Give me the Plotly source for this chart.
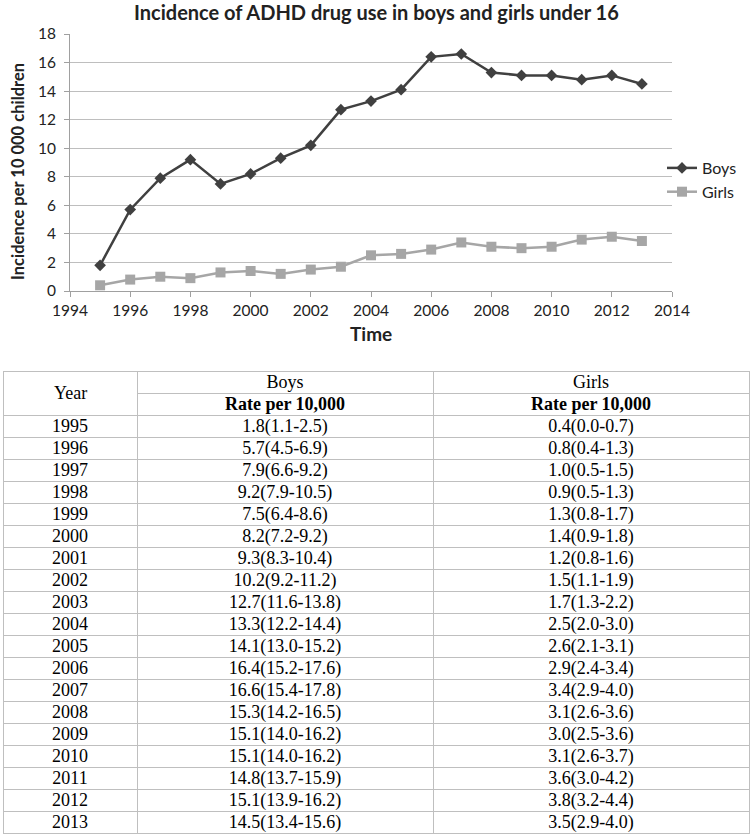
import plotly.graph_objects as go

# ---------------- data ----------------
years = [1995, 1996, 1997, 1998, 1999, 2000, 2001, 2002, 2003, 2004,
         2005, 2006, 2007, 2008, 2009, 2010, 2011, 2012, 2013]
boys = [1.8, 5.7, 7.9, 9.2, 7.5, 8.2, 9.3, 10.2, 12.7, 13.3,
        14.1, 16.4, 16.6, 15.3, 15.1, 15.1, 14.8, 15.1, 14.5]
boys_lo = [1.1, 4.5, 6.6, 7.9, 6.4, 7.2, 8.3, 9.2, 11.6, 12.2,
           13.0, 15.2, 15.4, 14.2, 14.0, 14.0, 13.7, 13.9, 13.4]
boys_hi = [2.5, 6.9, 9.2, 10.5, 8.6, 9.2, 10.4, 11.2, 13.8, 14.4,
           15.2, 17.6, 17.8, 16.5, 16.2, 16.2, 15.9, 16.2, 15.6]
girls = [0.4, 0.8, 1.0, 0.9, 1.3, 1.4, 1.2, 1.5, 1.7, 2.5,
         2.6, 2.9, 3.4, 3.1, 3.0, 3.1, 3.6, 3.8, 3.5]
girls_lo = [0.0, 0.4, 0.5, 0.5, 0.8, 0.9, 0.8, 1.1, 1.3, 2.0,
            2.1, 2.4, 2.9, 2.6, 2.5, 2.6, 3.0, 3.2, 2.9]
girls_hi = [0.7, 1.3, 1.5, 1.3, 1.7, 1.8, 1.6, 1.9, 2.2, 3.0,
            3.1, 3.4, 4.0, 3.6, 3.6, 3.7, 4.2, 4.4, 4.0]

title_text = "Incidence of ADHD drug use in boys and girls under 16"
x_title = "Time"
y_title = "Incidence per 10 000 children"
col_year = "Year"
col_groups = ["Boys", "Girls"]
rate_label = "Rate per 10,000"

# ---------------- layout helpers ----------------
W, H = 752, 834


def px_x(v):
    return v / W


def px_y(v):
    return 1 - v / H


boys_txt = [f"{v:.1f}({lo:.1f}-{hi:.1f})" for v, lo, hi in zip(boys, boys_lo, boys_hi)]
girls_txt = [f"{v:.1f}({lo:.1f}-{hi:.1f})" for v, lo, hi in zip(girls, girls_lo, girls_hi)]

fig = go.Figure()

fig.add_trace(go.Scatter(
    x=years, y=boys, name="Boys", mode="lines+markers",
    line=dict(color="#404040", width=2.5),
    marker=dict(symbol="diamond", size=9, color="#404040"),
))
fig.add_trace(go.Scatter(
    x=years, y=girls, name="Girls", mode="lines+markers",
    line=dict(color="#A6A6A6", width=2.5),
    marker=dict(symbol="square", size=10, color="#A6A6A6"),
))

# ---------------- table ----------------
table_top = 371
row_h = 22
text_lift = 5          # raise cell text so it sits centred in each row
line_c = "#BFBFBF"
tsize = 18
tfont = dict(family="Liberation Serif", size=tsize, color="black")
tfont_b = dict(family="Liberation Serif", size=tsize, color="black", weight="bold")
grid_line = dict(color=line_c, width=1)
no_line = dict(color="rgba(0,0,0,0)", width=0)
white = dict(color="white")
clear = dict(color="rgba(0,0,0,0)")
nrows = len(years)

x_year = [px_x(3), px_x(137)]
x_vals = [px_x(137), px_x(749)]
col_w = [296, 316]

# --- grid (borders) ---
fig.add_trace(go.Table(
    domain=dict(x=x_year, y=[0, px_y(table_top)]),
    columnwidth=[1],
    header=dict(values=[""], height=2 * row_h, line=grid_line, fill=white),
    cells=dict(values=[[""] * nrows], height=row_h, line=grid_line, fill=white),
))
fig.add_trace(go.Table(
    domain=dict(x=x_vals, y=[0, px_y(table_top)]),
    columnwidth=col_w,
    header=dict(values=["", ""], height=row_h, line=grid_line, fill=white),
    cells=dict(values=[[""] * (nrows + 1), [""] * (nrows + 1)], height=row_h,
               line=grid_line, fill=white),
))

# --- text ---
t_top = table_top - text_lift
fig.add_trace(go.Table(
    domain=dict(x=x_year, y=[0, px_y(t_top)]),
    columnwidth=[1],
    header=dict(values=[""], height=2 * row_h, line=no_line, fill=clear),
    cells=dict(values=[[str(y) for y in years]], height=row_h, align="center",
               line=no_line, fill=clear, font=tfont),
))
fig.add_trace(go.Table(
    domain=dict(x=x_vals, y=[px_y(t_top + 4 * row_h), px_y(t_top)]),
    columnwidth=col_w,
    header=dict(values=col_groups, height=row_h, align="center",
                line=no_line, fill=clear, font=tfont),
    cells=dict(values=[[], []], height=row_h, line=no_line, fill=clear),
))
fig.add_trace(go.Table(
    domain=dict(x=x_vals, y=[0, px_y(t_top + row_h)]),
    columnwidth=col_w,
    header=dict(values=[rate_label, rate_label], height=row_h, align="center",
                line=no_line, fill=clear, font=tfont_b),
    cells=dict(values=[boys_txt, girls_txt], height=row_h, align="center",
               line=no_line, fill=clear, font=tfont),
))

axis_font = dict(family="Lato", size=15.5, color="#222222")

fig.update_layout(
    width=W, height=H,
    template="none",
    paper_bgcolor="white", plot_bgcolor="white",
    margin=dict(l=0, r=0, t=0, b=0),
    xaxis=dict(domain=[px_x(70), px_x(672)], range=[1994, 2014], dtick=2,
               tick0=1994, showgrid=False, showline=True, linecolor="#A0A0A0",
               linewidth=1, ticks="outside", ticklen=5, tickcolor="#A0A0A0",
               tickfont=axis_font, automargin=False, zeroline=False),
    yaxis=dict(domain=[px_y(291), px_y(34)], range=[0, 18], dtick=2,
               showgrid=True, gridcolor="#BEBEBE", gridwidth=1,
               showline=True, linecolor="#A0A0A0", linewidth=1,
               ticks="outside", ticklen=5, tickcolor="#A0A0A0",
               ticklabelstandoff=5,
               tickfont=axis_font, automargin=False, zeroline=False),
    legend=dict(x=px_x(662), y=px_y(180), xanchor="left", yanchor="middle",
                font=dict(family="Lato", size=16, color="#222222"),
                bgcolor="rgba(0,0,0,0)", tracegroupgap=4),
    showlegend=True,
    annotations=[
        dict(text=f"<b>{title_text}</b>", x=px_x(376), y=px_y(12), xref="paper",
             yref="paper", showarrow=False, xanchor="center", yanchor="middle",
             font=dict(family="Lato", size=20, color="#222222")),
        dict(text=f"<b>{x_title}</b>", x=px_x(371), y=px_y(334), xref="paper",
             yref="paper", showarrow=False, xanchor="center", yanchor="middle",
             font=dict(family="Lato", size=19, color="#222222")),
        dict(text=f"<b>{y_title}</b>", x=px_x(18), y=px_y(172), xref="paper",
             yref="paper", showarrow=False, xanchor="center", yanchor="middle",
             textangle=-90,
             font=dict(family="Lato", size=16.5, color="#222222")),
        dict(text=col_year, x=px_x(70), y=px_y(table_top + row_h), xref="paper",
             yref="paper", showarrow=False, xanchor="center", yanchor="middle",
             font=tfont),
    ],
)

fig.write_html("out.html", config={"displayModeBar": False},
               post_script="document.body.style.margin='0';")
